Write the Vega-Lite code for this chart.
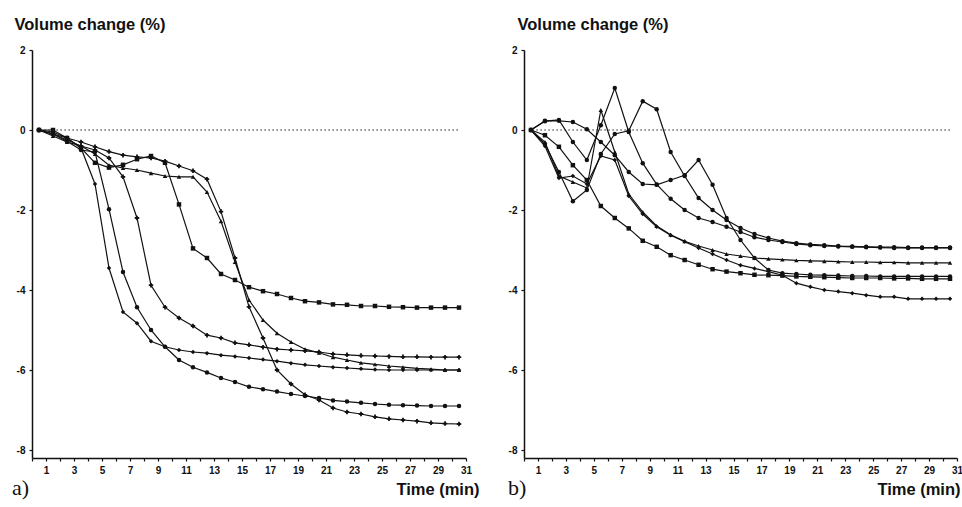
{
"$schema":"https://vega.github.io/schema/vega-lite/v6.json",
"background":"white",
"padding":{"left":12,"top":16,"right":0,"bottom":2},
"spacing":29,
"config":{"view":{"stroke":null},"font":"Liberation Sans",
"axis":{"grid":false,"domainColor":"#111","domainWidth":1.5,"tickColor":"#111","tickWidth":1.2,"tickSize":3,"labelFont":"Liberation Sans","labelFontWeight":"bold","labelFontSize":10,"labelColor":"#111","titleColor":"#111","titleFont":"Liberation Sans","titleFontWeight":"bold","titleFontSize":16.5,"labelOverlap":false,"labelFlush":false}},
"datasets":{
"a":[
{"s":"L1","t":0.5,"v":0},{"s":"L1","t":1.5,"v":-0.05},{"s":"L1","t":2.5,"v":-0.2},{"s":"L1","t":3.5,"v":-0.45},{"s":"L1","t":4.5,"v":-1.35},{"s":"L1","t":5.5,"v":-3.45},{"s":"L1","t":6.5,"v":-4.55},{"s":"L1","t":7.5,"v":-4.83},{"s":"L1","t":8.5,"v":-5.28},{"s":"L1","t":9.5,"v":-5.42},{"s":"L1","t":10.5,"v":-5.5},{"s":"L1","t":11.5,"v":-5.55},{"s":"L1","t":12.5,"v":-5.58},{"s":"L1","t":13.5,"v":-5.63},{"s":"L1","t":14.5,"v":-5.66},{"s":"L1","t":15.5,"v":-5.7},{"s":"L1","t":16.5,"v":-5.74},{"s":"L1","t":17.5,"v":-5.78},{"s":"L1","t":18.5,"v":-5.83},{"s":"L1","t":19.5,"v":-5.87},{"s":"L1","t":20.5,"v":-5.9},{"s":"L1","t":21.5,"v":-5.93},{"s":"L1","t":22.5,"v":-5.95},{"s":"L1","t":23.5,"v":-5.97},{"s":"L1","t":24.5,"v":-5.99},{"s":"L1","t":25.5,"v":-6.0},{"s":"L1","t":26.5,"v":-6.0},{"s":"L1","t":27.5,"v":-6.0},{"s":"L1","t":28.5,"v":-6.0},{"s":"L1","t":29.5,"v":-6.0},{"s":"L1","t":30.5,"v":-6.0},
{"s":"L2","t":0.5,"v":0},{"s":"L2","t":1.5,"v":-0.1},{"s":"L2","t":2.5,"v":-0.28},{"s":"L2","t":3.5,"v":-0.5},{"s":"L2","t":4.5,"v":-0.55},{"s":"L2","t":5.5,"v":-1.98},{"s":"L2","t":6.5,"v":-3.55},{"s":"L2","t":7.5,"v":-4.43},{"s":"L2","t":8.5,"v":-5.0},{"s":"L2","t":9.5,"v":-5.42},{"s":"L2","t":10.5,"v":-5.75},{"s":"L2","t":11.5,"v":-5.93},{"s":"L2","t":12.5,"v":-6.06},{"s":"L2","t":13.5,"v":-6.2},{"s":"L2","t":14.5,"v":-6.3},{"s":"L2","t":15.5,"v":-6.42},{"s":"L2","t":16.5,"v":-6.48},{"s":"L2","t":17.5,"v":-6.54},{"s":"L2","t":18.5,"v":-6.6},{"s":"L2","t":19.5,"v":-6.65},{"s":"L2","t":20.5,"v":-6.7},{"s":"L2","t":21.5,"v":-6.76},{"s":"L2","t":22.5,"v":-6.79},{"s":"L2","t":23.5,"v":-6.82},{"s":"L2","t":24.5,"v":-6.85},{"s":"L2","t":25.5,"v":-6.87},{"s":"L2","t":26.5,"v":-6.88},{"s":"L2","t":27.5,"v":-6.89},{"s":"L2","t":28.5,"v":-6.9},{"s":"L2","t":29.5,"v":-6.9},{"s":"L2","t":30.5,"v":-6.9},
{"s":"L3","t":0.5,"v":0},{"s":"L3","t":1.5,"v":-0.1},{"s":"L3","t":2.5,"v":-0.25},{"s":"L3","t":3.5,"v":-0.4},{"s":"L3","t":4.5,"v":-0.5},{"s":"L3","t":5.5,"v":-0.7},{"s":"L3","t":6.5,"v":-1.17},{"s":"L3","t":7.5,"v":-2.2},{"s":"L3","t":8.5,"v":-3.88},{"s":"L3","t":9.5,"v":-4.43},{"s":"L3","t":10.5,"v":-4.7},{"s":"L3","t":11.5,"v":-4.9},{"s":"L3","t":12.5,"v":-5.13},{"s":"L3","t":13.5,"v":-5.2},{"s":"L3","t":14.5,"v":-5.32},{"s":"L3","t":15.5,"v":-5.37},{"s":"L3","t":16.5,"v":-5.43},{"s":"L3","t":17.5,"v":-5.48},{"s":"L3","t":18.5,"v":-5.5},{"s":"L3","t":19.5,"v":-5.52},{"s":"L3","t":20.5,"v":-5.55},{"s":"L3","t":21.5,"v":-5.6},{"s":"L3","t":22.5,"v":-5.62},{"s":"L3","t":23.5,"v":-5.64},{"s":"L3","t":24.5,"v":-5.65},{"s":"L3","t":25.5,"v":-5.66},{"s":"L3","t":26.5,"v":-5.67},{"s":"L3","t":27.5,"v":-5.67},{"s":"L3","t":28.5,"v":-5.68},{"s":"L3","t":29.5,"v":-5.68},{"s":"L3","t":30.5,"v":-5.68},
{"s":"L4","t":0.5,"v":0},{"s":"L4","t":1.5,"v":0},{"s":"L4","t":2.5,"v":-0.2},{"s":"L4","t":3.5,"v":-0.45},{"s":"L4","t":4.5,"v":-0.82},{"s":"L4","t":5.5,"v":-0.94},{"s":"L4","t":6.5,"v":-0.87},{"s":"L4","t":7.5,"v":-0.73},{"s":"L4","t":8.5,"v":-0.65},{"s":"L4","t":9.5,"v":-0.82},{"s":"L4","t":10.5,"v":-1.86},{"s":"L4","t":11.5,"v":-2.96},{"s":"L4","t":12.5,"v":-3.2},{"s":"L4","t":13.5,"v":-3.6},{"s":"L4","t":14.5,"v":-3.75},{"s":"L4","t":15.5,"v":-3.93},{"s":"L4","t":16.5,"v":-4.03},{"s":"L4","t":17.5,"v":-4.1},{"s":"L4","t":18.5,"v":-4.2},{"s":"L4","t":19.5,"v":-4.28},{"s":"L4","t":20.5,"v":-4.31},{"s":"L4","t":21.5,"v":-4.36},{"s":"L4","t":22.5,"v":-4.37},{"s":"L4","t":23.5,"v":-4.4},{"s":"L4","t":24.5,"v":-4.4},{"s":"L4","t":25.5,"v":-4.42},{"s":"L4","t":26.5,"v":-4.43},{"s":"L4","t":27.5,"v":-4.44},{"s":"L4","t":28.5,"v":-4.44},{"s":"L4","t":29.5,"v":-4.44},{"s":"L4","t":30.5,"v":-4.44},
{"s":"L5","t":0.5,"v":0},{"s":"L5","t":1.5,"v":-0.15},{"s":"L5","t":2.5,"v":-0.3},{"s":"L5","t":3.5,"v":-0.4},{"s":"L5","t":4.5,"v":-0.6},{"s":"L5","t":5.5,"v":-0.88},{"s":"L5","t":6.5,"v":-0.95},{"s":"L5","t":7.5,"v":-1.0},{"s":"L5","t":8.5,"v":-1.08},{"s":"L5","t":9.5,"v":-1.15},{"s":"L5","t":10.5,"v":-1.17},{"s":"L5","t":11.5,"v":-1.17},{"s":"L5","t":12.5,"v":-1.55},{"s":"L5","t":13.5,"v":-2.28},{"s":"L5","t":14.5,"v":-3.3},{"s":"L5","t":15.5,"v":-4.25},{"s":"L5","t":16.5,"v":-4.75},{"s":"L5","t":17.5,"v":-5.08},{"s":"L5","t":18.5,"v":-5.3},{"s":"L5","t":19.5,"v":-5.48},{"s":"L5","t":20.5,"v":-5.57},{"s":"L5","t":21.5,"v":-5.68},{"s":"L5","t":22.5,"v":-5.75},{"s":"L5","t":23.5,"v":-5.82},{"s":"L5","t":24.5,"v":-5.86},{"s":"L5","t":25.5,"v":-5.9},{"s":"L5","t":26.5,"v":-5.93},{"s":"L5","t":27.5,"v":-5.96},{"s":"L5","t":28.5,"v":-5.98},{"s":"L5","t":29.5,"v":-6.0},{"s":"L5","t":30.5,"v":-6.0},
{"s":"L6","t":0.5,"v":0},{"s":"L6","t":1.5,"v":-0.1},{"s":"L6","t":2.5,"v":-0.2},{"s":"L6","t":3.5,"v":-0.3},{"s":"L6","t":4.5,"v":-0.42},{"s":"L6","t":5.5,"v":-0.54},{"s":"L6","t":6.5,"v":-0.63},{"s":"L6","t":7.5,"v":-0.67},{"s":"L6","t":8.5,"v":-0.7},{"s":"L6","t":9.5,"v":-0.78},{"s":"L6","t":10.5,"v":-0.9},{"s":"L6","t":11.5,"v":-1.02},{"s":"L6","t":12.5,"v":-1.23},{"s":"L6","t":13.5,"v":-2.04},{"s":"L6","t":14.5,"v":-3.2},{"s":"L6","t":15.5,"v":-4.42},{"s":"L6","t":16.5,"v":-5.2},{"s":"L6","t":17.5,"v":-6.0},{"s":"L6","t":18.5,"v":-6.35},{"s":"L6","t":19.5,"v":-6.62},{"s":"L6","t":20.5,"v":-6.75},{"s":"L6","t":21.5,"v":-6.95},{"s":"L6","t":22.5,"v":-7.05},{"s":"L6","t":23.5,"v":-7.1},{"s":"L6","t":24.5,"v":-7.17},{"s":"L6","t":25.5,"v":-7.22},{"s":"L6","t":26.5,"v":-7.25},{"s":"L6","t":27.5,"v":-7.28},{"s":"L6","t":28.5,"v":-7.32},{"s":"L6","t":29.5,"v":-7.34},{"s":"L6","t":30.5,"v":-7.35}
],
"b":[
{"s":"R1","t":0.5,"v":0},{"s":"R1","t":1.5,"v":0.23},{"s":"R1","t":2.5,"v":0.23},{"s":"R1","t":3.5,"v":0.2},{"s":"R1","t":4.5,"v":0.02},{"s":"R1","t":5.5,"v":-0.3},{"s":"R1","t":6.5,"v":-0.63},{"s":"R1","t":7.5,"v":-1.05},{"s":"R1","t":8.5,"v":-1.35},{"s":"R1","t":9.5,"v":-1.37},{"s":"R1","t":10.5,"v":-1.25},{"s":"R1","t":11.5,"v":-1.13},{"s":"R1","t":12.5,"v":-0.75},{"s":"R1","t":13.5,"v":-1.37},{"s":"R1","t":14.5,"v":-2.2},{"s":"R1","t":15.5,"v":-2.75},{"s":"R1","t":16.5,"v":-3.2},{"s":"R1","t":17.5,"v":-3.5},{"s":"R1","t":18.5,"v":-3.58},{"s":"R1","t":19.5,"v":-3.6},{"s":"R1","t":20.5,"v":-3.62},{"s":"R1","t":21.5,"v":-3.63},{"s":"R1","t":22.5,"v":-3.64},{"s":"R1","t":23.5,"v":-3.65},{"s":"R1","t":24.5,"v":-3.65},{"s":"R1","t":25.5,"v":-3.66},{"s":"R1","t":26.5,"v":-3.66},{"s":"R1","t":27.5,"v":-3.66},{"s":"R1","t":28.5,"v":-3.66},{"s":"R1","t":29.5,"v":-3.66},{"s":"R1","t":30.5,"v":-3.66},
{"s":"R2","t":0.5,"v":0},{"s":"R2","t":1.5,"v":0.22},{"s":"R2","t":2.5,"v":0.25},{"s":"R2","t":3.5,"v":-0.3},{"s":"R2","t":4.5,"v":-0.75},{"s":"R2","t":5.5,"v":0.12},{"s":"R2","t":6.5,"v":1.05},{"s":"R2","t":7.5,"v":-0.05},{"s":"R2","t":8.5,"v":-0.83},{"s":"R2","t":9.5,"v":-1.36},{"s":"R2","t":10.5,"v":-1.72},{"s":"R2","t":11.5,"v":-2.0},{"s":"R2","t":12.5,"v":-2.2},{"s":"R2","t":13.5,"v":-2.3},{"s":"R2","t":14.5,"v":-2.42},{"s":"R2","t":15.5,"v":-2.55},{"s":"R2","t":16.5,"v":-2.68},{"s":"R2","t":17.5,"v":-2.75},{"s":"R2","t":18.5,"v":-2.8},{"s":"R2","t":19.5,"v":-2.85},{"s":"R2","t":20.5,"v":-2.88},{"s":"R2","t":21.5,"v":-2.9},{"s":"R2","t":22.5,"v":-2.91},{"s":"R2","t":23.5,"v":-2.92},{"s":"R2","t":24.5,"v":-2.93},{"s":"R2","t":25.5,"v":-2.94},{"s":"R2","t":26.5,"v":-2.95},{"s":"R2","t":27.5,"v":-2.95},{"s":"R2","t":28.5,"v":-2.95},{"s":"R2","t":29.5,"v":-2.95},{"s":"R2","t":30.5,"v":-2.95},
{"s":"R3","t":0.5,"v":0},{"s":"R3","t":1.5,"v":-0.3},{"s":"R3","t":2.5,"v":-1.15},{"s":"R3","t":3.5,"v":-1.3},{"s":"R3","t":4.5,"v":-1.45},{"s":"R3","t":5.5,"v":0.5},{"s":"R3","t":6.5,"v":-0.55},{"s":"R3","t":7.5,"v":-1.6},{"s":"R3","t":8.5,"v":-2.05},{"s":"R3","t":9.5,"v":-2.4},{"s":"R3","t":10.5,"v":-2.62},{"s":"R3","t":11.5,"v":-2.78},{"s":"R3","t":12.5,"v":-2.9},{"s":"R3","t":13.5,"v":-3.0},{"s":"R3","t":14.5,"v":-3.1},{"s":"R3","t":15.5,"v":-3.15},{"s":"R3","t":16.5,"v":-3.2},{"s":"R3","t":17.5,"v":-3.22},{"s":"R3","t":18.5,"v":-3.24},{"s":"R3","t":19.5,"v":-3.26},{"s":"R3","t":20.5,"v":-3.27},{"s":"R3","t":21.5,"v":-3.28},{"s":"R3","t":22.5,"v":-3.29},{"s":"R3","t":23.5,"v":-3.3},{"s":"R3","t":24.5,"v":-3.3},{"s":"R3","t":25.5,"v":-3.31},{"s":"R3","t":26.5,"v":-3.31},{"s":"R3","t":27.5,"v":-3.32},{"s":"R3","t":28.5,"v":-3.32},{"s":"R3","t":29.5,"v":-3.32},{"s":"R3","t":30.5,"v":-3.32},
{"s":"R4","t":0.5,"v":0},{"s":"R4","t":1.5,"v":-0.35},{"s":"R4","t":2.5,"v":-1.05},{"s":"R4","t":3.5,"v":-1.78},{"s":"R4","t":4.5,"v":-1.5},{"s":"R4","t":5.5,"v":-0.6},{"s":"R4","t":6.5,"v":-0.1},{"s":"R4","t":7.5,"v":-0.02},{"s":"R4","t":8.5,"v":0.72},{"s":"R4","t":9.5,"v":0.52},{"s":"R4","t":10.5,"v":-0.55},{"s":"R4","t":11.5,"v":-1.15},{"s":"R4","t":12.5,"v":-1.7},{"s":"R4","t":13.5,"v":-2.0},{"s":"R4","t":14.5,"v":-2.25},{"s":"R4","t":15.5,"v":-2.45},{"s":"R4","t":16.5,"v":-2.6},{"s":"R4","t":17.5,"v":-2.7},{"s":"R4","t":18.5,"v":-2.78},{"s":"R4","t":19.5,"v":-2.83},{"s":"R4","t":20.5,"v":-2.86},{"s":"R4","t":21.5,"v":-2.88},{"s":"R4","t":22.5,"v":-2.9},{"s":"R4","t":23.5,"v":-2.91},{"s":"R4","t":24.5,"v":-2.92},{"s":"R4","t":25.5,"v":-2.93},{"s":"R4","t":26.5,"v":-2.93},{"s":"R4","t":27.5,"v":-2.94},{"s":"R4","t":28.5,"v":-2.94},{"s":"R4","t":29.5,"v":-2.94},{"s":"R4","t":30.5,"v":-2.94},
{"s":"R5","t":0.5,"v":0},{"s":"R5","t":1.5,"v":-0.13},{"s":"R5","t":2.5,"v":-0.42},{"s":"R5","t":3.5,"v":-0.88},{"s":"R5","t":4.5,"v":-1.25},{"s":"R5","t":5.5,"v":-1.9},{"s":"R5","t":6.5,"v":-2.2},{"s":"R5","t":7.5,"v":-2.46},{"s":"R5","t":8.5,"v":-2.77},{"s":"R5","t":9.5,"v":-2.92},{"s":"R5","t":10.5,"v":-3.13},{"s":"R5","t":11.5,"v":-3.25},{"s":"R5","t":12.5,"v":-3.37},{"s":"R5","t":13.5,"v":-3.48},{"s":"R5","t":14.5,"v":-3.54},{"s":"R5","t":15.5,"v":-3.58},{"s":"R5","t":16.5,"v":-3.62},{"s":"R5","t":17.5,"v":-3.63},{"s":"R5","t":18.5,"v":-3.64},{"s":"R5","t":19.5,"v":-3.66},{"s":"R5","t":20.5,"v":-3.67},{"s":"R5","t":21.5,"v":-3.68},{"s":"R5","t":22.5,"v":-3.69},{"s":"R5","t":23.5,"v":-3.7},{"s":"R5","t":24.5,"v":-3.7},{"s":"R5","t":25.5,"v":-3.7},{"s":"R5","t":26.5,"v":-3.71},{"s":"R5","t":27.5,"v":-3.71},{"s":"R5","t":28.5,"v":-3.72},{"s":"R5","t":29.5,"v":-3.72},{"s":"R5","t":30.5,"v":-3.72},
{"s":"R6","t":0.5,"v":0},{"s":"R6","t":1.5,"v":-0.4},{"s":"R6","t":2.5,"v":-1.2},{"s":"R6","t":3.5,"v":-1.15},{"s":"R6","t":4.5,"v":-1.35},{"s":"R6","t":5.5,"v":-0.65},{"s":"R6","t":6.5,"v":-0.75},{"s":"R6","t":7.5,"v":-1.65},{"s":"R6","t":8.5,"v":-2.1},{"s":"R6","t":9.5,"v":-2.42},{"s":"R6","t":10.5,"v":-2.63},{"s":"R6","t":11.5,"v":-2.79},{"s":"R6","t":12.5,"v":-2.95},{"s":"R6","t":13.5,"v":-3.1},{"s":"R6","t":14.5,"v":-3.25},{"s":"R6","t":15.5,"v":-3.38},{"s":"R6","t":16.5,"v":-3.46},{"s":"R6","t":17.5,"v":-3.54},{"s":"R6","t":18.5,"v":-3.63},{"s":"R6","t":19.5,"v":-3.83},{"s":"R6","t":20.5,"v":-3.92},{"s":"R6","t":21.5,"v":-4.0},{"s":"R6","t":22.5,"v":-4.04},{"s":"R6","t":23.5,"v":-4.08},{"s":"R6","t":24.5,"v":-4.13},{"s":"R6","t":25.5,"v":-4.17},{"s":"R6","t":26.5,"v":-4.17},{"s":"R6","t":27.5,"v":-4.22},{"s":"R6","t":28.5,"v":-4.22},{"s":"R6","t":29.5,"v":-4.22},{"s":"R6","t":30.5,"v":-4.22}
]},
"hconcat":[
{"width":434,"height":408,
"title":{"text":"a)","orient":"bottom","anchor":"start","frame":"group","font":"Liberation Serif","fontSize":22,"fontWeight":"normal","color":"#111","dx":-20,"offset":-20},
"layer":[
{"data":{"name":"a"},"mark":{"type":"line","color":"#111","strokeWidth":1.2},
"encoding":{"x":{"field":"t","type":"quantitative","scale":{"domain":[0,31],"nice":false,"zero":false},"axis":{"orient":"bottom","values":[1,3,5,7,9,11,13,15,17,19,21,23,25,27,29,31],"format":"d","labelOverlap":false,"labelBound":false,"labelPadding":4,"title":"Time (min)","titleAlign":"right","titleBaseline":"alphabetic","titleX":447,"titleY":36}},
"y":{"field":"v","type":"quantitative","scale":{"domain":[-8.2,2],"nice":false,"zero":false},"axis":{"values":[2,0,-2,-4,-6,-8],"labelExpr":"'' + datum.value","labelOverlap":false,"labelPadding":4,"title":"Volume change (%)","titleAngle":0,"titleAlign":"left","titleBaseline":"alphabetic","titleX":-18,"titleY":-21}},
"detail":{"field":"s"}}},
{"data":{"name":"a"},"mark":{"type":"point","filled":true,"color":"#111","size":20,"opacity":1},
"encoding":{"x":{"field":"t","type":"quantitative","axis":{"orient":"bottom","values":[0,2,4,6,8,10,12,14,16,18,20,22,24,26,28,30],"labels":false,"domain":false,"title":null}},"y":{"field":"v","type":"quantitative"},
"shape":{"field":"s","legend":null,"scale":{"domain":["L1","L2","L3","L4","L5","L6"],"range":["diamond","circle","cross","square","triangle-up","cross"]}}}},
{"data":{"values":[{}]},"mark":{"type":"rule","color":"#222","strokeWidth":1,"strokeDash":[1.5,2.5]},
"encoding":{"x":{"datum":0.6,"type":"quantitative","axis":null},"x2":{"datum":30.5},"y":{"datum":0,"type":"quantitative"}}}
],
"resolve":{"axis":{"x":"independent"}}},
{"width":433,"height":408,
"title":{"text":"b)","orient":"bottom","anchor":"start","frame":"group","font":"Liberation Serif","fontSize":22,"fontWeight":"normal","color":"#111","dx":-16,"offset":-20},
"layer":[
{"data":{"name":"b"},"mark":{"type":"line","color":"#111","strokeWidth":1.2},
"encoding":{"x":{"field":"t","type":"quantitative","scale":{"domain":[0,31],"nice":false,"zero":false},"axis":{"orient":"bottom","values":[1,3,5,7,9,11,13,15,17,19,21,23,25,27,29,31],"format":"d","labelOverlap":false,"labelBound":false,"labelPadding":4,"title":"Time (min)","titleAlign":"right","titleBaseline":"alphabetic","titleX":436,"titleY":36}},
"y":{"field":"v","type":"quantitative","scale":{"domain":[-8.2,2],"nice":false,"zero":false},"axis":{"values":[2,0,-2,-4,-6,-8],"labelExpr":"'' + datum.value","labelOverlap":false,"labelPadding":4,"title":"Volume change (%)","titleAngle":0,"titleAlign":"left","titleBaseline":"alphabetic","titleX":-7,"titleY":-21}},
"detail":{"field":"s"}}},
{"data":{"name":"b"},"mark":{"type":"point","filled":true,"color":"#111","size":20,"opacity":1},
"encoding":{"x":{"field":"t","type":"quantitative","axis":{"orient":"bottom","values":[0,2,4,6,8,10,12,14,16,18,20,22,24,26,28,30],"labels":false,"domain":false,"title":null}},"y":{"field":"v","type":"quantitative"},
"shape":{"field":"s","legend":null,"scale":{"domain":["R1","R2","R3","R4","R5","R6"],"range":["circle","circle","triangle-up","circle","square","diamond"]}}}},
{"data":{"values":[{}]},"mark":{"type":"rule","color":"#222","strokeWidth":1,"strokeDash":[1.5,2.5]},
"encoding":{"x":{"datum":0.6,"type":"quantitative","axis":null},"x2":{"datum":30.5},"y":{"datum":0,"type":"quantitative"}}}
],
"resolve":{"axis":{"x":"independent"}}}
],
"resolve":{"scale":{"shape":"independent"}}
}
